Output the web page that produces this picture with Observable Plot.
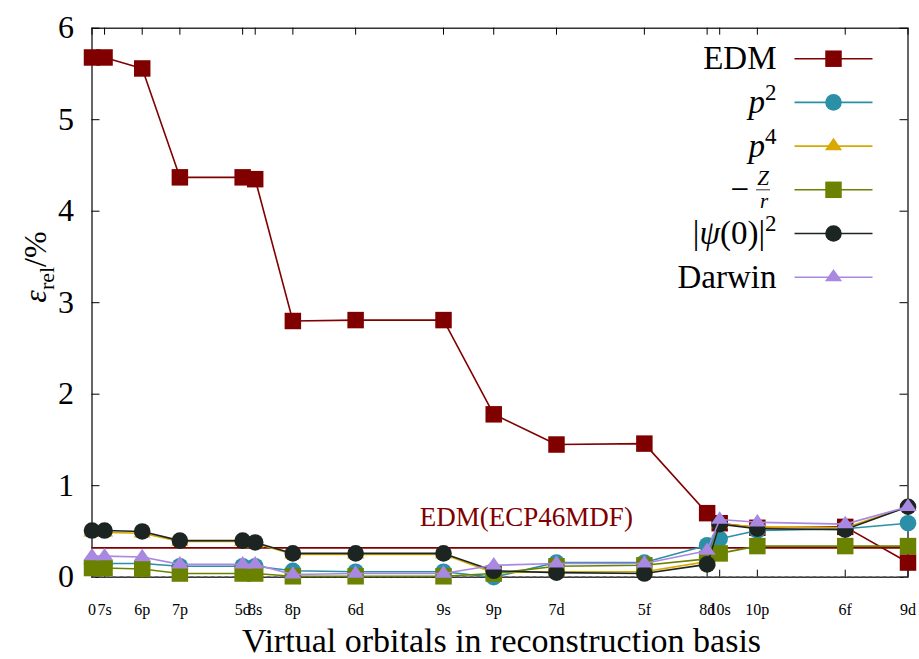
<!DOCTYPE html>
<html>
<head>
<meta charset="utf-8">
<script src="https://cdn.jsdelivr.net/npm/d3@7"></script>
<script src="https://cdn.jsdelivr.net/npm/@observablehq/plot@0.6"></script>
<style>
  body { margin: 0; background: #fff; }
  #chart { width: 919px; height: 659px; }
</style>
</head>
<body>
<div id="chart"></div>
<script>
// Virtual orbitals added to the reconstruction basis (cumulative function count on x)
const tickLabels   = ["0", "7s", "6p", "7p", "5d", "8s", "8p", "6d", "9s", "9p", "7d", "5f", "8d", "10s", "10p", "6f", "9d"];
const orbitalCount = [0, 1, 4, 7, 12, 13, 16, 21, 28, 32, 37, 44, 49, 50, 53, 60, 65];

// Relative error (%) of each property
const edm    = [5.68, 5.68, 5.56, 4.37, 4.37, 4.35, 2.80, 2.81, 2.81, 1.78, 1.45, 1.46, 0.70, 0.59, 0.54, 0.55, 0.16];
const p2     = [0.15, 0.15, 0.15, 0.12, 0.12, 0.12, 0.07, 0.06, 0.06, 0.00, 0.16, 0.16, 0.35, 0.42, 0.51, 0.53, 0.59];
const p4     = [0.49, 0.49, 0.48, 0.39, 0.39, 0.37, 0.25, 0.25, 0.25, 0.05, 0.06, 0.06, 0.17, 0.58, 0.55, 0.54, 0.77];
const zOverR = [0.10, 0.10, 0.09, 0.04, 0.04, 0.04, 0.01, 0.01, 0.01, 0.04, 0.12, 0.13, 0.20, 0.26, 0.34, 0.34, 0.34];
const psi0   = [0.51, 0.51, 0.50, 0.40, 0.40, 0.38, 0.26, 0.26, 0.26, 0.07, 0.05, 0.04, 0.14, 0.58, 0.53, 0.52, 0.77];
const darwin = [0.23, 0.23, 0.22, 0.14, 0.14, 0.14, 0.03, 0.04, 0.04, 0.13, 0.15, 0.15, 0.29, 0.63, 0.60, 0.58, 0.77];

// EDM error obtained with the ECP46MDF pseudopotential
const edmReference = 0.32;
const edmReferenceLabel = "EDM(ECP46MDF)";

const yTicks = [0, 1, 2, 3, 4, 5, 6];

const FONT = "Liberation Serif";
const W = 919, H = 659;
const M = {top: 27.7, right: 11.5, bottom: 82.3, left: 91.5};
const plotW = W - M.left - M.right;
const plotH = H - M.top - M.bottom;

// filled up-pointing triangle, slightly flattened
const triangle = {
  draw(ctx) {
    const w = 8.6, h = 12.4;
    ctx.moveTo(0, -2 * h / 3);
    ctx.lineTo(w, h / 3);
    ctx.lineTo(-w, h / 3);
    ctx.closePath();
  }
};
// short horizontal segment for legend samples
const segment = {
  draw(ctx) { ctx.moveTo(-39, 0); ctx.lineTo(39, 0); }
};

const series = [
  {key: "EDM",    values: edm,    color: "#800000", symbol: "square", r: 9.3},
  {key: "p2",     values: p2,     color: "#2b8fa7", symbol: "circle", r: 8.3},
  {key: "p4",     values: p4,     color: "#d8a900", symbol: triangle, r: 8},
  {key: "-Z/r",   values: zOverR, color: "#6a8200", symbol: "square", r: 9.3},
  {key: "psi0",   values: psi0,   color: "#1c2521", symbol: "circle", r: 8.3},
  {key: "Darwin", values: darwin, color: "#a888e0", symbol: triangle, r: 8}
];

const seriesMarks = series.flatMap(s => {
  const rows = s.values.map((v, i) => ({x: orbitalCount[i], y: v}));
  return [
    Plot.line(rows, {x: "x", y: "y", stroke: s.color, strokeWidth: 1.6}),
    Plot.dot(rows, {x: "x", y: "y", symbol: s.symbol, r: s.r, fill: s.color, stroke: "none"})
  ];
});

// legend, top right inside the frame
const legendRow = i => 30.5 + i * 43.7;
const legendMarks = series.flatMap((s, i) => {
  const marks = [
    Plot.dot([0], {frameAnchor: "top-right", dx: -74.5, dy: legendRow(i), symbol: segment,
                   fill: "none", stroke: s.color, strokeWidth: 1.6}),
    Plot.dot([0], {frameAnchor: "top-right", dx: -74.5, dy: legendRow(i), symbol: s.symbol,
                   r: s.r, fill: s.color, stroke: "none"})
  ];
  if (s.key === "-Z/r") {
    marks.push(
      Plot.text(["\u2212"], {frameAnchor: "top-right", dx: -159, dy: legendRow(i), textAnchor: "end",
                             lineAnchor: "middle", fontSize: 33, fontFamily: FONT}),
      Plot.text(["Z"], {frameAnchor: "top-right", dx: -145, dy: legendRow(i) - 12, textAnchor: "middle",
                        lineAnchor: "middle", fontSize: 21, fontStyle: "italic", fontFamily: FONT}),
      Plot.text(["r"], {frameAnchor: "top-right", dx: -144, dy: legendRow(i) + 11, textAnchor: "middle",
                        lineAnchor: "middle", fontSize: 21, fontStyle: "italic", fontFamily: FONT}),
      Plot.dot([0], {frameAnchor: "top-right", dx: -145, dy: legendRow(i), fill: "none", stroke: "black",
                     strokeWidth: 0.8, symbol: {draw(ctx) { ctx.moveTo(-7, 0); ctx.lineTo(7, 0); }}})
    );
  } else {
    marks.push(Plot.text([s.key], {frameAnchor: "top-right", dx: -131.5, dy: legendRow(i), textAnchor: "end",
                                   lineAnchor: "middle", fontSize: 33, fontFamily: FONT}));
  }
  return marks;
});

const chart = Plot.plot({
  width: W,
  height: H,
  marginTop: M.top, marginRight: M.right, marginBottom: M.bottom, marginLeft: M.left,
  style: {fontFamily: FONT, background: "white", color: "black"},
  x: {domain: [0, 65]},
  y: {domain: [0, 6]},
  marks: [
    Plot.frame({stroke: "black", strokeWidth: 1.2}),
    // inward ticks on all four sides
    Plot.ruleX(orbitalCount, {insetTop: plotH - 7, stroke: "black"}),
    Plot.ruleX(orbitalCount, {insetBottom: plotH - 7, stroke: "black"}),
    Plot.ruleY(yTicks, {insetRight: plotW - 8, stroke: "black"}),
    Plot.ruleY(yTicks, {insetLeft: plotW - 8, stroke: "black"}),
    Plot.ruleY([0], {stroke: "#444", strokeWidth: 1.4, strokeDasharray: "4,3"}),
    Plot.axisX({anchor: "bottom", ticks: orbitalCount, tickSize: 0, tickPadding: 26, fontSize: 16,
                tickFormat: d => tickLabels[orbitalCount.indexOf(d)], label: null}),
    Plot.axisY({anchor: "left", ticks: yTicks, tickSize: 0, tickPadding: 18, fontSize: 32,
                tickFormat: d => String(d), label: null}),
    Plot.text(["Virtual orbitals in reconstruction basis"], {frameAnchor: "bottom", dy: 64, dx: 1.5,
              lineAnchor: "middle", fontSize: 34, fontFamily: FONT}),
    Plot.text(["y-title"], {frameAnchor: "left", dx: -56, rotate: -90, lineAnchor: "middle",
              fontSize: 32, fontFamily: FONT}),
    // reference line
    Plot.ruleY([edmReference], {stroke: "#800000", strokeWidth: 1.6}),
    Plot.text([edmReferenceLabel], {x: () => 34.6, y: () => edmReference, dy: -22, lineAnchor: "bottom",
              fill: "#800000", fontSize: 27, fontFamily: FONT}),
    ...seriesMarks,
    ...legendMarks
  ]
});

// rich text (italics, sub/superscripts) for the placeholder labels
const NS = "http://www.w3.org/2000/svg";
function rich(placeholder, parts) {
  const text = Array.from(chart.querySelectorAll("text")).find(t => t.textContent === placeholder);
  if (!text) return;
  text.textContent = "";
  for (const [str, attrs] of parts) {
    const t = document.createElementNS(NS, "tspan");
    t.textContent = str;
    for (const [k, v] of Object.entries(attrs || {})) t.setAttribute(k, v);
    text.appendChild(t);
  }
}
rich("y-title", [["\u03B5", {"font-style": "italic"}], ["rel", {"font-size": "22px", dy: "8"}], ["/%", {dy: "-8"}]]);
rich("p2", [["p", {"font-style": "italic"}], ["2", {"font-size": "23px", dy: "-13"}]]);
rich("p4", [["p", {"font-style": "italic"}], ["4", {"font-size": "23px", dy: "-13"}]]);
rich("psi0", [["|", {}], ["\u03C8", {"font-style": "italic"}], ["(0)|", {}], ["2", {"font-size": "23px", dy: "-13"}]]);

document.getElementById("chart").appendChild(chart);
</script>
</body>
</html>
